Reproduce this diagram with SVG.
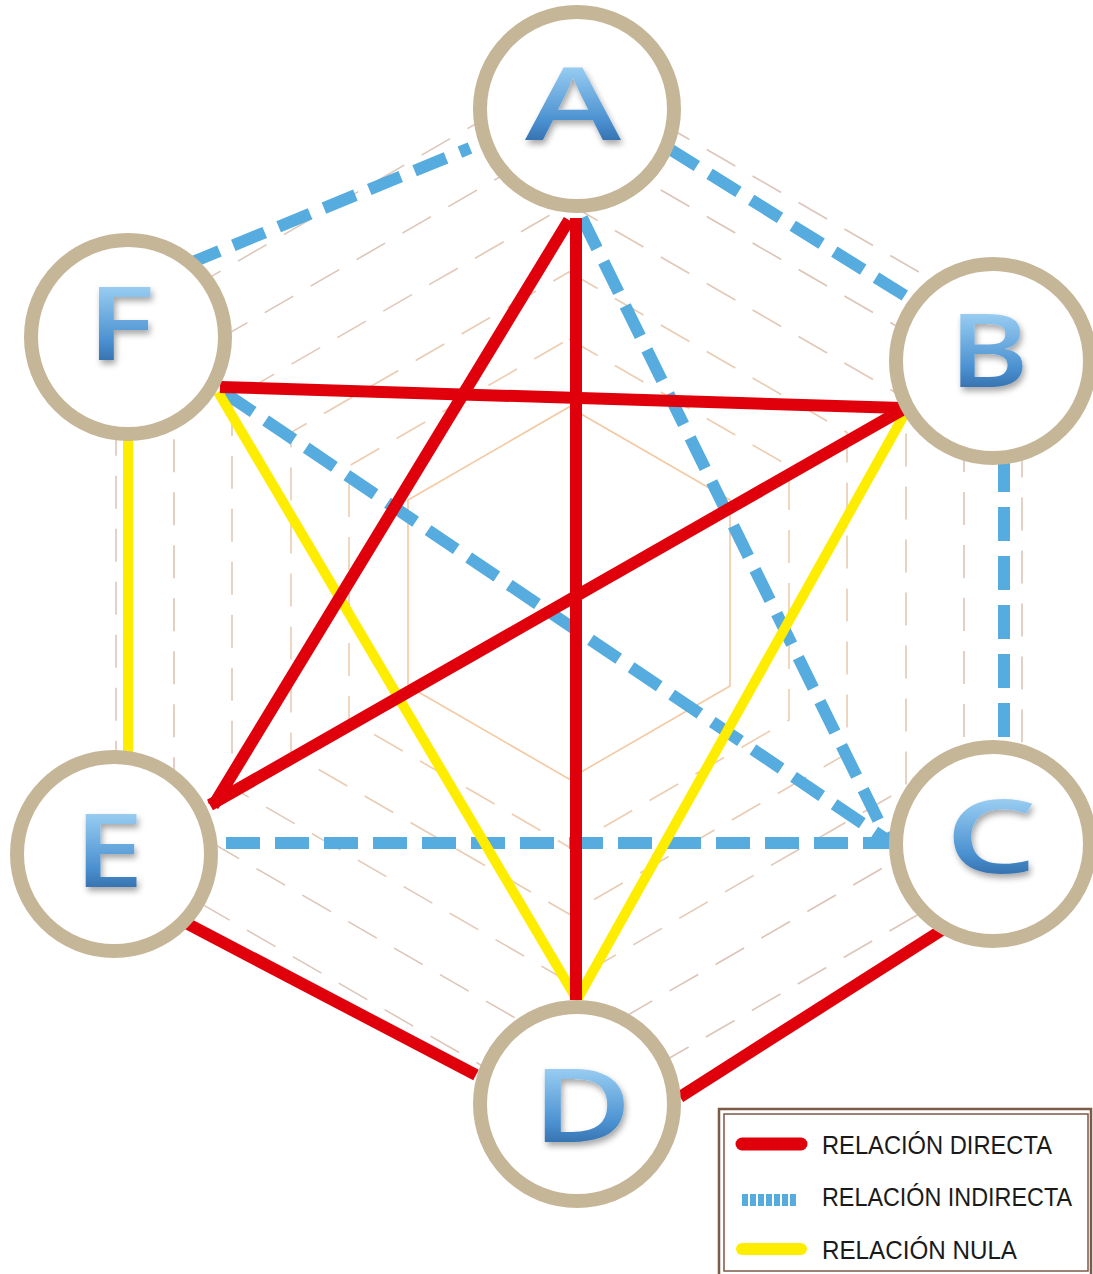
<svg xmlns="http://www.w3.org/2000/svg" width="1093" height="1274" viewBox="0 0 1093 1274">
<defs>
<linearGradient id="lg" x1="0" y1="0" x2="0" y2="1">
<stop offset="0" stop-color="#dff0fb"/>
<stop offset="0.3" stop-color="#8fc6ee"/>
<stop offset="0.65" stop-color="#4a90d0"/>
<stop offset="1" stop-color="#1b4580"/>
</linearGradient>
<filter id="sh" x="-30%" y="-30%" width="160%" height="160%">
<feDropShadow dx="2" dy="4" stdDeviation="3" flood-color="#000" flood-opacity="0.35"/>
</filter>
<style>
.hex{fill:none;stroke-width:1.6}
.hd{stroke-dasharray:33 20}
.red{stroke:#e0000b;stroke-width:12;fill:none}
.yel{stroke:#ffed00;stroke-width:10;fill:none}
.blu{stroke:#56acde;stroke-width:12;fill:none;stroke-dasharray:34 15}
.ring{fill:#fff;stroke:#c6b698;stroke-width:14}
.let{font-family:"Open Sans","Liberation Sans",sans-serif;font-weight:600;font-size:102px;fill:url(#lg);filter:url(#sh);text-anchor:middle}
.lt{font-family:"Liberation Sans",Arial,sans-serif;font-size:25px;fill:#1a1a1a}
</style>
</defs>
<rect width="1093" height="1274" fill="#fff"/>
<g id="grid">
<polygon class="hex hd" stroke="#dcc6ba" points="569,70 1022,331.5 1022,854.5 569,1116 116,854.5 116,331.5"/>
<polygon class="hex hd" stroke="#dcc4b6" points="569,137 964,365 964,821 569,1049 174,821 174,365"/>
<polygon class="hex hd" stroke="#e2c8b6" points="569,204 906,398.5 906,787.5 569,982 232,787.5 232,398.5"/>
<polygon class="hex hd" stroke="#e8ccb4" points="569,272 847,432.5 847,753.5 569,914 291,753.5 291,432.5"/>
<polygon class="hex hd" stroke="#eecdb0" points="569,339 789,466 789,720 569,847 349,720 349,466"/>
<polygon class="hex" stroke="#f4c9a2" points="569,407 730,500 730,686 569,779 408,686 408,500"/>
</g>
<g id="connectors">
<line class="blu" x1="188" y1="264" x2="470" y2="148"/>
<line class="blu" x1="668" y1="148" x2="912" y2="300"/>
<line class="blu" x1="1004" y1="458" x2="1004" y2="742"/>
<line class="blu" x1="582" y1="218" x2="887" y2="838"/>
<line class="blu" x1="225" y1="393" x2="887" y2="840"/>
<line class="blu" x1="226" y1="843" x2="890" y2="843"/>
<line class="yel" x1="128" y1="440" x2="128" y2="752"/>
<line class="yel" x1="218" y1="392" x2="576" y2="998"/>
<line class="yel" x1="904" y1="415" x2="578" y2="998"/>
<line class="red" x1="576" y1="218" x2="576" y2="1000"/>
<line class="red" x1="569" y1="220" x2="213" y2="806"/>
<line class="red" x1="220" y1="387" x2="902" y2="408"/>
<line class="red" x1="902" y1="410" x2="210" y2="805"/>
<line class="red" x1="186" y1="923" x2="476" y2="1075"/>
<line class="red" x1="680" y1="1097" x2="942" y2="930"/>
</g>
<g id="node-A"><circle class="ring" cx="577" cy="109" r="97"/><text class="let" x="573" y="140" textLength="96" lengthAdjust="spacingAndGlyphs">A</text></g>
<g id="node-B"><circle class="ring" cx="993" cy="361" r="97"/><text class="let" x="989" y="387" textLength="80" lengthAdjust="spacingAndGlyphs">B</text></g>
<g id="node-C"><circle class="ring" cx="993" cy="844" r="97"/><text class="let" x="991" y="873" textLength="92" lengthAdjust="spacingAndGlyphs">C</text></g>
<g id="node-D"><circle class="ring" cx="577" cy="1104" r="97"/><text class="let" x="582" y="1142" textLength="100" lengthAdjust="spacingAndGlyphs">D</text></g>
<g id="node-E"><circle class="ring" cx="114" cy="854" r="97"/><text class="let" x="109" y="887" textLength="70" lengthAdjust="spacingAndGlyphs">E</text></g>
<g id="node-F"><circle class="ring" cx="128" cy="337" r="97"/><text class="let" x="121" y="360" textLength="68" lengthAdjust="spacingAndGlyphs">F</text></g>
<g id="legend">
<rect x="719" y="1109" width="372" height="170" fill="#fff" stroke="#7b5a48" stroke-width="2.5"/>
<rect x="724" y="1114" width="364" height="157" fill="none" stroke="#7b5a48" stroke-width="1.5"/>
<line x1="742" y1="1144" x2="801" y2="1144" stroke="#e0000b" stroke-width="13" stroke-linecap="round"/>
<line x1="742" y1="1200" x2="798" y2="1200" stroke="#56acde" stroke-width="12" stroke-dasharray="6 2"/>
<line x1="742" y1="1249" x2="801" y2="1249" stroke="#ffed00" stroke-width="12" stroke-linecap="round"/>
<text class="lt" x="822" y="1154" textLength="230" lengthAdjust="spacingAndGlyphs">RELACIÓN DIRECTA</text>
<text class="lt" x="822" y="1206" textLength="250" lengthAdjust="spacingAndGlyphs">RELACIÓN INDIRECTA</text>
<text class="lt" x="822" y="1259" textLength="195" lengthAdjust="spacingAndGlyphs">RELACIÓN NULA</text>
</g>
</svg>
